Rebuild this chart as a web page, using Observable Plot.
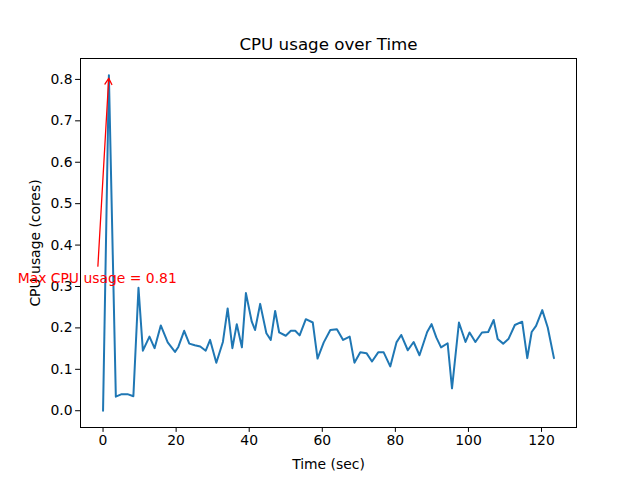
<!DOCTYPE html>
<html>
<head>
<meta charset="utf-8">
<script src="https://cdn.jsdelivr.net/npm/d3@7"></script>
<script src="https://cdn.jsdelivr.net/npm/@observablehq/plot@0.6"></script>
<style>
  html, body { margin: 0; padding: 0; background: #fff; }
  #chart { width: 640px; height: 480px; }
</style>
</head>
<body>
<div id="chart"></div>
<script>
const timeSec = [0, 1.6, 3.5, 5.1, 6.7, 8.3, 9.7, 10.9, 12.7, 14.1, 15.8, 17.7, 19.7, 20.6, 22.2, 23.6, 25.1, 26.6, 28.1, 29.3, 31.0, 32.8, 34.1, 35.4, 36.6, 38.0, 39.1, 40.7, 41.6, 43.0, 44.7, 45.9, 47.1, 48.2, 50.0, 51.4, 52.6, 53.8, 55.5, 57.4, 58.7, 60.4, 62.2, 64.0, 65.7, 67.5, 68.8, 70.4, 72.1, 73.6, 75.3, 76.8, 78.6, 80.3, 81.6, 83.4, 85.0, 86.6, 88.7, 89.9, 91.2, 92.5, 94.3, 95.5, 97.4, 99.2, 100.3, 101.9, 103.7, 105.4, 106.9, 108.0, 109.5, 111.0, 112.7, 114.7, 116.1, 117.3, 118.5, 120.2, 121.7, 123.4];
const cpuCores = [0.000, 0.810, 0.034, 0.040, 0.040, 0.035, 0.297, 0.145, 0.179, 0.151, 0.206, 0.165, 0.142, 0.154, 0.193, 0.162, 0.158, 0.155, 0.145, 0.171, 0.116, 0.166, 0.247, 0.151, 0.209, 0.153, 0.284, 0.215, 0.195, 0.258, 0.187, 0.171, 0.241, 0.189, 0.181, 0.193, 0.193, 0.182, 0.221, 0.213, 0.126, 0.165, 0.195, 0.197, 0.171, 0.179, 0.116, 0.141, 0.139, 0.119, 0.141, 0.141, 0.107, 0.165, 0.183, 0.146, 0.166, 0.134, 0.190, 0.209, 0.177, 0.153, 0.163, 0.054, 0.213, 0.166, 0.189, 0.166, 0.189, 0.190, 0.219, 0.173, 0.162, 0.174, 0.207, 0.215, 0.127, 0.190, 0.205, 0.243, 0.201, 0.127];
const xTicks = [0, 20, 40, 60, 80, 100, 120];
const yTicks = [0.0, 0.1, 0.2, 0.3, 0.4, 0.5, 0.6, 0.7, 0.8];
const titleText = "CPU usage over Time";
const xLabel = "Time (sec)";
const yLabel = "CPU usage (cores)";

const data = timeSec.map((t, i) => ({t, v: cpuCores[i]}));
const maxIdx = d3.maxIndex(cpuCores);
const peak = data[maxIdx];
const annot = [{x1: peak.t - 3.2, y1: 0.32, x2: peak.t, y2: peak.v, label: `Max CPU usage = ${peak.v.toFixed(2)}`}];

const xMin = d3.min(timeSec), xMax = d3.max(timeSec);
const yMin = d3.min(cpuCores), yMax = d3.max(cpuCores);
const xPad = (xMax - xMin) * 0.05, yPad = (yMax - yMin) * 0.05;

const chart = Plot.plot({
  width: 640,
  height: 480,
  marginLeft: 80,
  marginRight: 64,
  marginTop: 58,
  marginBottom: 53,
  style: {fontFamily: "DejaVu Sans", fontSize: "13.9px", color: "#000", background: "#fff", overflow: "visible"},
  x: {domain: [xMin - xPad, xMax + xPad]},
  y: {domain: [yMin - yPad, yMax + yPad]},
  marks: [
    Plot.axisX({ticks: xTicks, tickSize: 4.9, tickPadding: 3, tickFormat: d3.format("d"), fontSize: 13.9,
      label: xLabel, labelAnchor: "center", labelArrow: "none", labelOffset: 41}),
    Plot.axisY({ticks: yTicks, tickSize: 4.9, tickPadding: 3, tickFormat: d3.format(".1f"), fontSize: 13.9,
      label: yLabel, labelAnchor: "center", labelArrow: "none", labelOffset: 50}),
    Plot.line(data, {x: "t", y: "v", stroke: "#1f77b4", strokeWidth: 2}),
    Plot.arrow(annot, {x1: "x1", y1: "y1", x2: "x2", y2: "y2", stroke: "red", strokeWidth: 1.3,
      headLength: 8, insetStart: 12, insetEnd: 3}),
    Plot.text(annot, {x: "x1", y: "y1", text: "label", fill: "red", fontSize: 13.9, textAnchor: "middle", lineAnchor: "middle"}),
    Plot.frame({stroke: "#000", strokeWidth: 1}),
    Plot.text([titleText], {frameAnchor: "top", dy: -9, fontSize: 16.7, lineAnchor: "bottom", fill: "#000"})
  ]
});
document.getElementById("chart").appendChild(chart);
</script>
</body>
</html>
